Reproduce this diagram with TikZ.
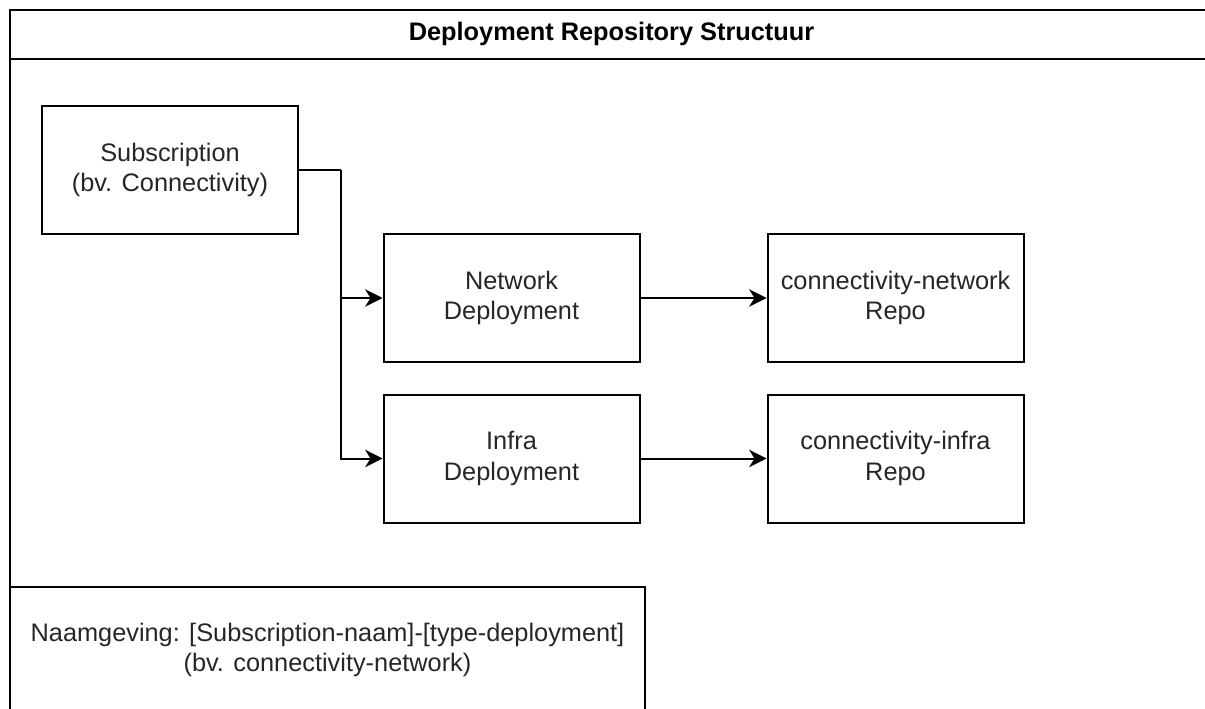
\documentclass[tikz,border=0pt]{standalone}
\usepackage{fontspec}
\setmainfont{Liberation Sans}
\usetikzlibrary{arrows.meta}
\definecolor{txt}{HTML}{262626}
\tikzset{
  boxstyle/.style={draw=black, line width=1.5pt, minimum width=192pt, minimum height=96pt, inner sep=0pt, align=center, text=txt, font=\fontsize{19}{23}\selectfont},
  conn/.style={draw=black, line width=1.5pt, -{Stealth[length=13pt,width=13pt,inset=4pt]}},
}
\begin{document}
\begin{tikzpicture}[x=0.75pt,y=-0.75pt]
\useasboundingbox (0,0) rectangle (1205,709);
\fill[white] (0,0) rectangle (1205,709);
\begin{scope}
\clip (0,0) rectangle (1205,709);
\draw[line width=1.5pt] (10,10) rectangle (1230,740);
\draw[line width=1.5pt] (10,59) -- (1230,59);
\draw[line width=1.5pt] (10,587) rectangle (645,740);
\end{scope}
\node[font=\fontsize{19}{23}\selectfont\bfseries, text=black] (title) at (611.5,34) {Deployment Repository Structuur};
\node[boxstyle] (sub) at (170,170) {Subscription\\(bv. Connectivity)};
\node[boxstyle] (net) at (511.5,298) {Network\\Deployment};
\node[boxstyle] (inf) at (511.5,458.5) {Infra\\Deployment};
\node[boxstyle] (rnet) at (895.5,298) {connectivity-network\\Repo};
\node[boxstyle] (rinf) at (895.5,458.5) {connectivity-infra\\Repo};
\node[align=center, text=txt, font=\fontsize{19}{23}\selectfont] (naam) at (327.5,650) {Naamgeving: [Subscription-naam]-[type-deployment]\\(bv. connectivity-network)};
\coordinate (split) at (341,170);
\draw[line width=1.5pt] (sub.east) -- (split);
\draw[conn] (split) |- (net.west);
\draw[conn] (split) |- (inf.west);
\draw[conn] (net.east) -- (rnet.west);
\draw[conn] (inf.east) -- (rinf.west);
\end{tikzpicture}
\end{document}
